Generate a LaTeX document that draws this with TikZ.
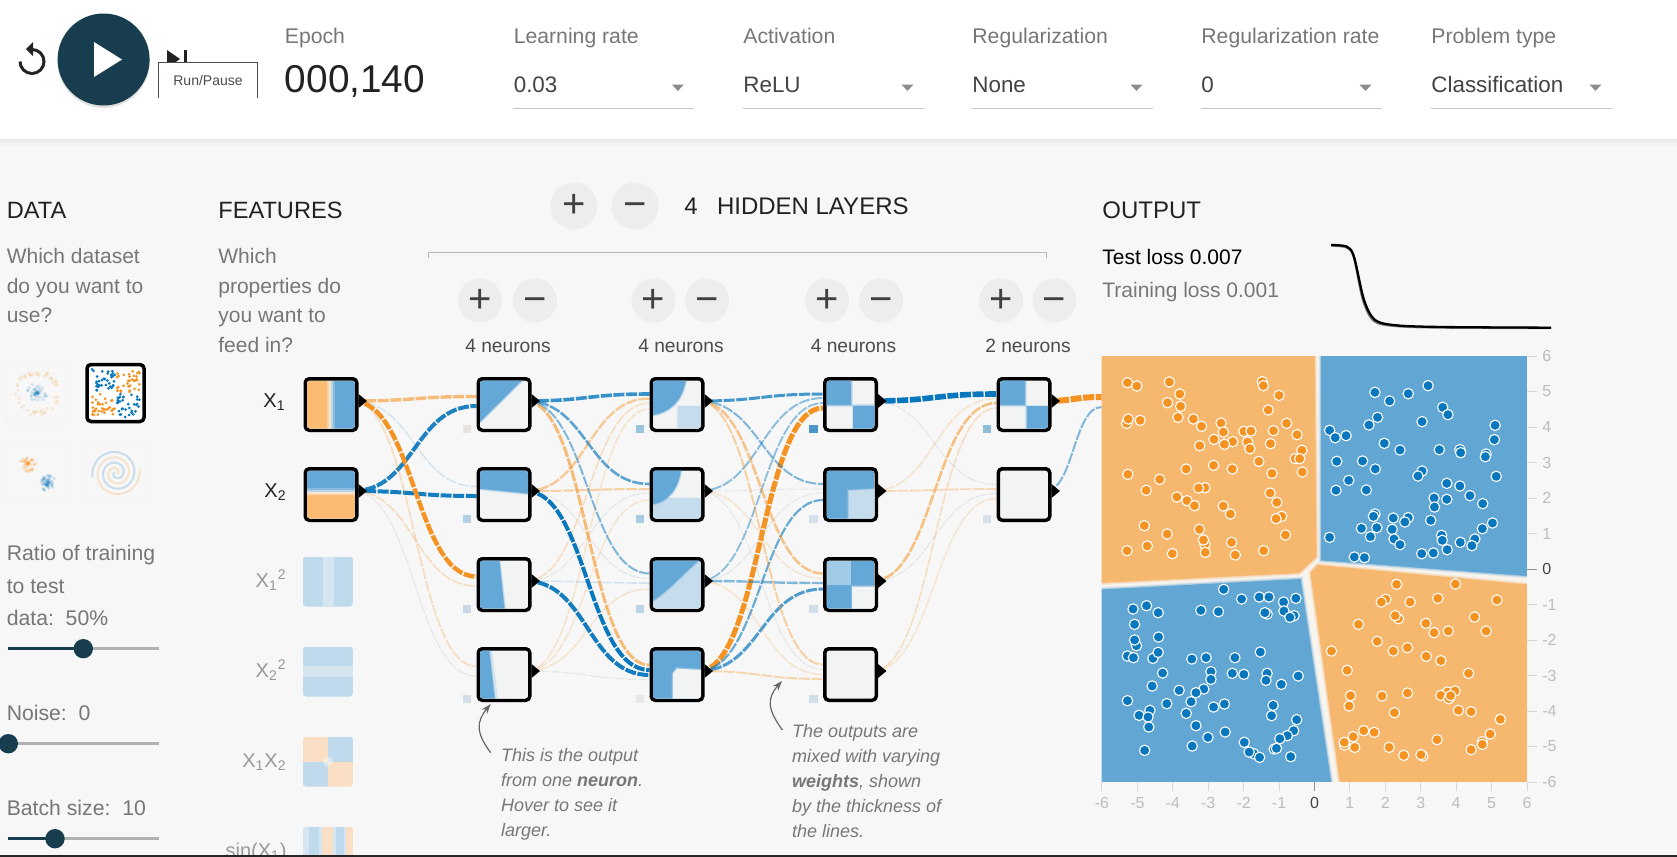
\documentclass[tikz,border=0pt]{standalone}
\usepackage{fontspec}
\setmainfont{Liberation Sans}
\usetikzlibrary{calc,shadows,arrows.meta}
\pgfdeclarelayer{wires}
\pgfdeclarelayer{thumbs}
\pgfsetlayers{wires,main,thumbs}

\definecolor{pagebg}{HTML}{F7F7F7}
\definecolor{navy}{HTML}{183D4E}
\definecolor{wb}{HTML}{0877BD}
\definecolor{wo}{HTML}{F59322}
\definecolor{wg}{HTML}{B4B8BA}
\definecolor{tb}{HTML}{63A8D6}
\definecolor{tl}{HTML}{C5DCEC}
\definecolor{tp}{HTML}{F2F4F4}
\definecolor{tor}{HTML}{FBBB72}
\definecolor{fb}{HTML}{BFD9ED}
\definecolor{fp}{HTML}{D6E6F0}
\definecolor{fo}{HTML}{FBDFC4}
\definecolor{heatb}{HTML}{62A6D4}
\definecolor{heato}{HTML}{F6B76F}
\definecolor{heatp}{HTML}{F8F4EE}
\definecolor{labgray}{HTML}{777777}
\definecolor{txtdark}{HTML}{222222}
\definecolor{axl}{HTML}{BDBDBD}
\definecolor{axd}{HTML}{444444}

\tikzset{
  lbl/.style={font=\fontsize{10.6}{13}\selectfont,text=labgray,inner sep=0pt,anchor=base west},
  val/.style={font=\fontsize{11.2}{13}\selectfont,text=txtdark!85,inner sep=0pt,anchor=base west},
  sect/.style={font=\fontsize{11.8}{14}\selectfont,text=txtdark,inner sep=0pt,anchor=base west},
  para/.style={font=\fontsize{10.5}{14.75}\selectfont,text=labgray,inner sep=0pt,anchor=north west,align=left},
  note/.style={font=\fontsize{9}{12.5}\selectfont\itshape,text=labgray,inner sep=0pt,anchor=north west,align=left},
  roundbtn/.style={circle,fill=black!7,text=black!75,inner sep=0pt,minimum size=#1,font=\fontsize{20}{20}\selectfont},
  neuron/.style={draw=black,line width=1.75pt,rounded corners=2pt,fill=tp,inner sep=0pt,minimum size=25.75pt,
    drop shadow={opacity=.14,shadow xshift=0pt,shadow yshift=-1pt}},
  featbox/.style={inner sep=0pt,minimum size=25pt},
  featlab/.style={font=\fontsize{10}{12}\selectfont,inner sep=0pt,anchor=base east},
  wirestyle/.style={dash pattern=on 5.5pt off .8pt},
  softb/.style={fill=tb,draw=tb,draw opacity=.22,line width=1.6pt,postaction={draw=tb,draw opacity=.35,line width=.7pt}},
  softl/.style={fill=tl,draw=tl,draw opacity=.22,line width=1.6pt,postaction={draw=tl,draw opacity=.35,line width=.7pt}},
  softp/.style={fill=tp,draw=tp,draw opacity=.22,line width=1.6pt,postaction={draw=tp,draw opacity=.35,line width=.7pt}},
}

% wire from the output tip of one node into the side of another
\newcommand{\wire}[4]{\draw[#4] let \p1=($(#1.east)+(-6,-3.5)$), \p2=($(#2.west)+(0,#3)$) in
  (\p1) .. controls ({0.5*\x1+0.5*\x2},\y1) and ({0.5*\x1+0.5*\x2},\y2) .. (\p2);}
% picture inside a node, drawn in a unit square
\newcommand{\thumb}[3][24pt]{\begin{pgfonlayer}{thumbs}
  \begin{scope}[shift={(#2.center)},xshift=-0.5*#1,yshift=-0.5*#1,x=#1,y=#1]
  \clip[rounded corners=1.5pt] (0,0) rectangle (1,1);
  \fill[tp] (0,0) rectangle (1,1);
  #3
  \end{scope}\end{pgfonlayer}}

\begin{document}
\begin{tikzpicture}[x=0.5pt,y=-0.5pt]
\useasboundingbox (0,0) rectangle (1677,857);

\begin{pgfonlayer}{wires}
\fill[pagebg] (0,0) rectangle (1677,857);
\fill[white] (0,0) rectangle (1677,139);
\shade[top color=black!9,bottom color=pagebg] (0,139) rectangle (1677,146);
\end{pgfonlayer}

% top bar
\draw[line width=1.5pt,txtdark] (32,49.5) arc[start angle=90,end angle=-180,radius=6pt];
\fill[txtdark] (26,49) -- (33,42) -- (33,56) -- cycle;
\node (play) [circle,fill=navy,inner sep=0pt,minimum size=46pt,drop shadow={opacity=.25,shadow xshift=0pt,shadow yshift=-1.2pt}] at (103.6,59.5) {};
\fill[white] (94,42) -- (122,59.5) -- (94,77) -- cycle;
\fill[txtdark] (167,50) -- (180,59) -- (167,68) -- cycle;
\fill[txtdark] (184,50) rectangle (187,68);
\node (runtip) [fill=white,minimum width=49pt,minimum height=17.5pt,inner sep=0pt,text=black!70,font=\fontsize{7}{8}\selectfont] at (208,80.5) {Run/Pause};
\draw[black!70,line width=.4pt] (runtip.south west) |- (runtip.north east) -- (runtip.south east);

\node (epochlab) [lbl] at (284.5,43) {Epoch};
\node (epochval) [font=\fontsize{19.4}{22}\selectfont,text=txtdark,inner sep=0pt,anchor=base west] at (284.5,92.7) {000,140};
\foreach \i/\lx/\lab/\vl in {1/513.4/Learning rate/0.03,2/743/Activation/ReLU,3/972/Regularization/None,4/1201/Regularization rate/0,5/1431/Problem type/Classification}{
  \node (drop\i) [lbl] at (\lx,43) {\lab};
  \node (dropval\i) [val] at (\lx,92) {\vl};
  \draw[black!22,line width=.5pt] (\lx,108) -- (\lx+180.5,108);
  \fill[black!45] (\lx+158.5,84.5) -- (\lx+170.5,84.5) -- (\lx+164.5,91) -- cycle;
}

% data column
\node (datatitle) [sect] at (6.4,218) {DATA};
\node (datatext) [para] at (6.4,248) {Which dataset\\do you want to\\use?};
\node (ratio1) [lbl] at (6.4,560) {Ratio of training};
\node (ratio2) [lbl] at (6.4,593) {to test};
\node (ratio3) [lbl] at (6.4,625) {data:\ \ 50\%};
\node (noiselab) [lbl] at (6.4,720) {Noise:\ \ 0};
\node (batchlab) [lbl] at (6.4,815) {Batch size:\ \ 10};
\foreach \sy/\kx in {648.7/83.3,743.7/8.3,838.7/55}{
  \draw[black!30,line width=1.25pt] (8,\sy) -- (159,\sy);
  \draw[navy,line width=1.25pt] (8,\sy) -- (\kx,\sy);
  \fill[navy] (\kx,\sy) circle[radius=4.85pt];
}

% dataset pictures
\foreach \bx/\by in {6/363,6/441,85/441}
  \draw[black!4,fill=pagebg,line width=.8pt,rounded corners=2pt] (\bx,\by) rectangle ++(61,61);
\node (xordata) [draw=black,line width=1.75pt,rounded corners=2pt,fill=white,minimum size=28.5pt,inner sep=0pt,
  drop shadow={opacity=.14,shadow xshift=0pt,shadow yshift=-1pt}] at (115.5,393) {};
\pgfmathsetseed{14}
\foreach \i in {1,...,50}{
  \pgfmathsetmacro\ang{rnd*360}\pgfmathsetmacro\rr{rnd*10}
  \fill[wb,opacity=.16] ({37+\rr*cos(\ang)},{393+\rr*sin(\ang)}) circle[radius=.9pt];
  \pgfmathsetmacro\ang{rnd*360}\pgfmathsetmacro\rr{18+rnd*5}
  \fill[wo,opacity=.16] ({37+\rr*cos(\ang)},{393+\rr*sin(\ang)}) circle[radius=.9pt];
  \pgfmathsetmacro\ang{rnd*360}\pgfmathsetmacro\rr{rnd*8}
  \fill[wo,opacity=.2] ({28+\rr*cos(\ang)},{464+\rr*sin(\ang)}) circle[radius=.9pt];
  \pgfmathsetmacro\ang{rnd*360}\pgfmathsetmacro\rr{rnd*8}
  \fill[wb,opacity=.2] ({48+\rr*cos(\ang)},{483+\rr*sin(\ang)}) circle[radius=.9pt];
}
\foreach \qx/\qy/\qc in {92/369/wb,117/369/wo,92/394/wo,117/394/wb}
  \foreach \i in {1,...,34}{
    \pgfmathsetmacro\dx{\qx+rnd*23}\pgfmathsetmacro\dy{\qy+rnd*23}
    \fill[\qc] (\dx,\dy) circle[radius=.75pt];
  }
\draw[wb,opacity=.2,line width=1pt,domain=40:800,samples=90,smooth,variable=\t] plot ({116+0.03*\t*cos(\t+110)},{473-0.03*\t*sin(\t+110)});
\draw[wo,opacity=.2,line width=1pt,domain=40:800,samples=90,smooth,variable=\t] plot ({116+0.03*\t*cos(\t+290)},{473-0.03*\t*sin(\t+290)});

% features column
\node (featitle) [sect] at (218,218) {FEATURES};
\node (featext) [para] at (218,248) {Which\\properties do\\you want to\\feed in?};
\foreach \nm/\cy in {x1/404.5,x2/494.5}
  \node (\nm) [neuron] at (331,\cy) {};
\foreach \nm/\cy in {xa/581.5,xb/671.5,xc/761.5,xd/851.5}
  \node (\nm) [featbox] at (328,\cy) {};
\node (labx1) [featlab,text=txtdark] at (286,407) {X\textsubscript{1}};
\node (labx2) [featlab,text=txtdark] at (287,497) {X\textsubscript{2}};
\node (labxa) [featlab,text=black!40] at (287,587) {X\textsubscript{1}\textsuperscript{2}};
\node (labxb) [featlab,text=black!40] at (287,677) {X\textsubscript{2}\textsuperscript{2}};
\node (labxc) [featlab,text=black!40] at (287,767) {X\textsubscript{1}X\textsubscript{2}};
\node (labxd) [featlab,text=black!40] at (287,857) {sin(X\textsubscript{1})};

% hidden layers
\node (addlayer) [roundbtn=23.5pt] at (574,206) {+};
\node (dellayer) [roundbtn=23.5pt] at (635,206) {\vphantom{+}−};
\node (numlayers) [font=\fontsize{12}{14}\selectfont,text=txtdark,inner sep=0pt,anchor=base] at (691,214) {4};
\node (hiddentitle) [font=\fontsize{12}{14}\selectfont,text=txtdark,inner sep=0pt,anchor=base west] at (716.6,214) {HIDDEN LAYERS};
\draw[black!28,line width=.5pt] (428,258) |- (1046,252.5) -- (1046,258);
\foreach \l/\cx/\n/\pa/\pb in {1/508/4/480/535,2/681/4/653.5/707,3/853.5/4/827/881,4/1028/2/1001/1054.5}{
  \node (add\l) [roundbtn=22pt] at (\pa,300.5) {+};
  \node (del\l) [roundbtn=22pt] at (\pb,300.5) {\vphantom{+}−};
  \node (count\l) [font=\fontsize{9.6}{12}\selectfont,text=black!70,inner sep=0pt,anchor=base] at (\cx,352) {\n{} neurons};
}
\foreach \l/\cx in {1/504,2/677,3/850.5}
  \foreach \n/\cy in {1/404.5,2/494.5,3/584.5,4/674.5}
    \node (h\l\n) [neuron] at (\cx,\cy) {};
\foreach \n/\cy in {1/404.5,2/494.5}
  \node (h4\n) [neuron] at (1024,\cy) {};

% output tips
\foreach \nm in {x1,x2,h11,h12,h13,h14,h21,h22,h23,h24,h31,h32,h33,h34,h41,h42}
  \fill[black] ($(\nm.east)+(0,-10.5)$) -- ($(\nm.east)+(8.5,-3.5)$) -- ($(\nm.east)+(0,3.5)$) -- cycle;

% small bias squares
\foreach \nm/\col in {h11/E8E2DC,h12/B5D0E4,h13/C8D9E6,h14/D3DFE9,h21/9BC3E0,h22/A9CBE2,h23/BDD4E6,h24/E8E8EA,h31/4D96CC,h32/D4E0E9,h33/CFDEE8,h34/CFDEE8,h41/8FBCDB,h42/D6E0EA}{
  \definecolor{biascol}{HTML}{\col}
  \fill[biascol] ($(\nm.south west)+(-14,1)$) rectangle ++(8.5,-8.5);
}

\node (heatmap) [inner sep=0pt,minimum width=212.5pt,minimum height=213pt] at (1314.5,569) {};

\begin{pgfonlayer}{wires}
% from, to, end offset, colour, width, opacity
\foreach \fr/\tg/\off/\col/\lw/\op in {
  x1/h11/-8/wo/1.7/.6, x2/h11/1.5/wb/2/.9,
  x1/h12/-8/wb/.7/.15, x2/h12/1.5/wb/2/.95,
  x1/h13/-8/wo/2.2/1, x2/h13/1.5/wo/.8/.25,
  x1/h14/-8/wo/.9/.25, x2/h14/1.5/wg/.6/.25,
  h11/h21/-10.5/wb/1.8/.8, h12/h21/-6/wo/1.2/.45, h13/h21/-1.5/wo/.8/.25, h14/h21/4.5/wo/.8/.2,
  h11/h22/-10.5/wb/1.3/.65, h12/h22/-5.5/wo/1/.4, h13/h22/-1.5/wg/.6/.25, h14/h22/5.5/wo/.7/.2,
  h11/h23/-11/wb/1/.5, h12/h23/-6/wg/.6/.25, h13/h23/-1.5/wb/.8/.15, h14/h23/4.5/wo/.8/.2,
  h11/h24/-9.5/wo/1.5/.6, h12/h24/-4.5/wb/2/1, h13/h24/.5/wb/2/.95, h14/h24/5/wg/.6/.25,
  h21/h31/-10.5/wb/1.5/.75, h22/h31/-6.5/wb/1/.45, h23/h31/-1.5/wb/.9/.45, h24/h31/3.5/wo/2.5/1,
  h21/h32/-10.5/wb/1/.5, h22/h32/-5.5/wg/.6/.2, h23/h32/-1.5/wg/.6/.25, h24/h32/5.5/wb/1.1/.6,
  h21/h33/-11/wo/1.3/.5, h22/h33/-6/wo/.7/.2, h23/h33/-1.5/wb/1.2/.5, h24/h33/4.5/wb/1.5/.7,
  h21/h34/-10/wo/1/.4, h22/h34/-5/wg/.6/.25, h23/h34/0/wo/.8/.2, h24/h34/4.5/wo/1/.35,
  h31/h41/-10.5/wb/2.8/1, h32/h41/-6/wo/.8/.2, h33/h41/-1.5/wo/1.3/.55, h34/h41/3.5/wo/.8/.25,
  h31/h42/-10/wg/.6/.25, h32/h42/-5.5/wo/.9/.3, h33/h42/-1/wg/.6/.25, h34/h42/4/wo/.7/.2,
  h41/heatmap/-172/wo/3/1, h42/heatmap/-162/wb/1/.5}{
  \wire{\fr}{\tg}{\off}{draw=\col,line width=\lw pt,draw opacity=\op,wirestyle}
}
\end{pgfonlayer}

% what each node shows
\thumb{x1}{\fill[tor] (0,0) rectangle (.42,1);\fill[tor!60!tp] (.42,0) rectangle (.46,1);\fill[tor!30!tp] (.46,0) rectangle (.5,1);\fill[tb!40!tp] (.5,0) rectangle (.54,1);\fill[tb!75!tp] (.54,0) rectangle (.58,1);\fill[tb] (.58,0) rectangle (1,1);}
\thumb{x2}{\fill[tb] (0,1) rectangle (1,.64);\fill[tb!75!tp] (0,.64) rectangle (1,.6);\fill[tb!40!tp] (0,.6) rectangle (1,.56);\fill[tor!30!tp] (0,.56) rectangle (1,.52);\fill[tor!60!tp] (0,.52) rectangle (1,.48);\fill[tor] (0,.48) rectangle (1,0);}
\thumb{h11}{\filldraw[softb] (-.2,1.2) -- (.87,1.2) -- (.87,1) -- (0,.14) -- (-.2,.14) -- cycle;}
\thumb{h12}{\filldraw[softb] (-.2,1.2) -- (1.2,1.2) -- (1.2,.5) -- (-.2,.64) -- cycle;}
\thumb{h13}{\filldraw[softb] (-.2,-.2) -- (.53,-.2) -- (.38,1.2) -- (-.2,1.2) -- cycle;}
\thumb{h14}{\filldraw[softb,line width=3pt] (-.2,-.2) -- (.33,-.2) -- (.17,1.2) -- (-.2,1.2) -- cycle;}
\thumb{h21}{\filldraw[softl] (.52,-.2) rectangle (1.2,.46);\filldraw[softb] (-.2,1.2) -- (.68,1.2) -- (.68,1) .. controls (.6,.55) and (.35,.35) .. (0,.28) -- (-.2,.28) -- cycle;}
\thumb{h22}{\filldraw[softl] (-.2,-.2) rectangle (1.2,.42);\filldraw[softb] (-.2,1.2) -- (.58,1.2) -- (.58,1) .. controls (.52,.6) and (.3,.35) .. (0,.3) -- (-.2,.3) -- cycle;}
\thumb{h23}{\fill[tl] (0,0) rectangle (1,1);\filldraw[softb] (-.2,1.2) -- (.95,1.2) -- (.95,1) .. controls (.6,.7) and (.3,.35) .. (0,.17) -- (-.2,.17) -- cycle;}
\thumb{h24}{\fill[tb] (0,0) rectangle (1,1);\filldraw[softp] (.42,-.2) -- (.42,.52) -- (.5,.62) -- (1.2,.58) -- (1.2,-.2) -- cycle;}
\thumb{h31}{\filldraw[softb] (-.2,1.2) rectangle (.52,.48);\filldraw[softb] (.56,-.2) rectangle (1.2,.47);}
\thumb{h32}{\fill[tb] (0,0) rectangle (1,1);\filldraw[softl] (.46,-.2) -- (.46,.58) -- (1.2,.62) -- (1.2,-.2) -- cycle;}
\thumb{h33}{\fill[tb] (0,0) rectangle (1,1);\fill[tb!60] (0,1) rectangle (.5,.5);\filldraw[softp] (.54,-.2) rectangle (1.2,.45);}
\thumb{h41}{\filldraw[softb] (-.2,1.2) rectangle (.53,.48);\filldraw[softb] (.56,-.2) rectangle (1.2,.46);}

\thumb[25pt]{xa}{\fill[fb] (0,0) rectangle (1,1);\fill[fp] (.39,0) rectangle (.61,1);}
\thumb[25pt]{xb}{\fill[fb] (0,0) rectangle (1,1);\fill[fp] (0,.39) rectangle (1,.61);}
\thumb[25pt]{xc}{\fill[fo] (0,0) rectangle (1,1);\fill[fb] (.5,.5) rectangle (1,1);\fill[fb] (0,0) rectangle (.5,.5);\fill[white,opacity=.4] (.5,.5) circle[radius=.1];}
\thumb[25pt]{xd}{\fill[fp] (0,0) rectangle (1,1);\fill[fb] (.12,0) rectangle (.32,1);\fill[fo] (.38,0) rectangle (.6,1);\fill[fb] (.66,0) rectangle (.82,1);\fill[fo] (.86,0) rectangle (1,1);}

% output
\node (outtitle) [font=\fontsize{12}{14}\selectfont,text=txtdark,inner sep=0pt,anchor=base west] at (1102,218) {OUTPUT};
\node (testloss) [font=\fontsize{10.5}{13}\selectfont,text=black,inner sep=0pt,anchor=base west] at (1102,264) {Test loss 0.007};
\node (trainloss) [font=\fontsize{10.5}{13}\selectfont,text=labgray,inner sep=0pt,anchor=base west] at (1102,297) {Training loss 0.001};
\draw[black!50,line width=1.2pt,smooth] plot coordinates {(1331,245.5) (1347,247.5) (1354,257.5) (1363,300) (1374,321) (1396,326) (1441,327.5) (1551,328)};
\draw[black,line width=1.15pt,smooth] plot coordinates {(1331,245) (1347,246.7) (1354,257) (1364,300) (1375,320) (1396,325.3) (1442,327) (1551,327.7)};

\begin{scope}[shift={(1090,340)},x=0.1872pt,y=-0.16667pt]
\fill[heatp] (32,48) rectangle (1167,1325);
\begin{scope}
\clip (32,48) rectangle (1167,1325);
\foreach \lw/\op in {2.6/.18,1.6/.25,.8/.4}{
  \filldraw[fill=heato,draw=heato,draw opacity=\op,line width=\lw pt] (20,30) -- (599,30) -- (604,650) -- (558,698) -- (20,728) -- cycle;
  \filldraw[fill=heatb,draw=heatb,draw opacity=\op,line width=\lw pt] (618,30) -- (1180,30) -- (1180,708) -- (618,660) -- cycle;
  \filldraw[fill=heato,draw=heato,draw opacity=\op,line width=\lw pt] (590,698) -- (608,676) -- (1180,736) -- (1180,1340) -- (670,1340) -- cycle;
  \filldraw[fill=heatb,draw=heatb,draw opacity=\op,line width=\lw pt] (20,750) -- (562,718) -- (645,1340) -- (20,1340) -- cycle;
}
\end{scope}
\foreach \a/\b in {100/128,125/138,212/126,240/162,207/188,242/199,235/232,460/125,463/137,505/166,476/210,98/250,102/237,134/241,276/237,298/259,350/249,356/276,411/274,430/273,490/272,525/250,553/284,331/298,381/305,359/313,293/317,421/306,427/326,482/311,566/331,548/356,560/356,451/364,101/403,186/418,257/387,330/376,380/387,486/400,567/396,150/451,307/443,290/444,232/471,259/482,279/497,356/498,375/522,481/459,499/487,512/529,497/536,145/557,206/582,292/568,307/613,303/600,378/607,522/585,99/632,153/618,220/641,308/637,388/645,464/632,
  819/733,976/732,790/778,778/786,855/786,929/775,1087/780,824/836,815/827,1027/831,717/853,897/850,919/878,957/873,1058/873,767/904,645/933,810/933,848/923,898/949,937/962,687/991,1011/1000,696/1067,780/1068,848/1059,955/1056,975/1053,937/1066,958/1076,963/1067,692/1098,813/1118,984/1111,1018/1115,1096/1138,731/1172,759/1177,703/1190,680/1215,679/1207,707/1222,799/1222,838/1246,889/1248,884/1244,927/1199,1018/1229,1048/1205,1048/1213,1069/1182}
  \filldraw[fill=wo,draw=white,line width=.55pt] (\a,\b) circle[radius=2.6pt];
\foreach \a/\b in {761/157,800/183,850/161,903/137,942/202,956/224,768/232,745/255,887/245,1082/256,1080/299,640/271,655/293,684/287,786/310,828/330,933/329,988/329,990/338,1058/342,1056/350,659/364,728/363,762/387,887/393,876/408,1085/409,691/421,657/451,738/450,953/430,988/438,1015/467,919/474,953/478,920/501,1049/491,761/522,757/529,810/534,850/533,841/546,910/541,725/565,766/563,807/568,1075/549,1048/566,640/592,749/590,812/597,828/614,939/586,941/601,989/607,1028/597,1020/617,954/629,886/641,917/639,706/651,733/653,
  357/748,405/777,452/771,478/771,517/786,550/775,151/797,115/807,182/818,296/811,343/815,473/822,467/818,518/813,545/827,534/832,119/853,183/891,124/917,119/900,100/948,116/953,168/955,182/937,272/957,310/953,387/953,455/936,323/995,194/999,380/1000,411/1003,473/1000,556/1008,323/1018,470/1021,511/1033,166/1038,304/1047,238/1051,283/1058,100/1082,270/1085,205/1091,359/1092,330/1101,489/1096,160/1111,131/1126,155/1131,257/1120,485/1127,552/1139,157/1161,283/1157,544/1172,361/1176,527/1187,507/1196,315/1192,412/1207,273/1218,146/1231,492/1227,498/1225,437/1241,425/1236,453/1252,536/1250}
  \filldraw[fill=wb,draw=white,line width=.55pt] (\a,\b) circle[radius=2.6pt];
\end{scope}

% axes of the output plot
\foreach \v/\col in {-6/axl,-5/axl,-4/axl,-3/axl,-2/axl,-1/axl,0/axd,1/axl,2/axl,3/axl,4/axl,5/axl,6/axl}{
  \pgfmathsetmacro\ty{569-35.5*\v}
  \pgfmathsetmacro\tx{1314.5+35.42*\v}
  \draw[\col!60,line width=.5pt] (1527,\ty) -- (1537,\ty);
  \draw[\col!60,line width=.5pt] (\tx,782) -- (\tx,791);
  \node (axr\v) [font=\fontsize{8}{10}\selectfont,text=\col,inner sep=0pt,anchor=west] at (1542,\ty) {\v};
  \node (axb\v) [font=\fontsize{8}{10}\selectfont,text=\col,inner sep=0pt,anchor=center] at (\tx,803) {\v};
}

% notes below the network
\node (note1) [note] at (500.7,748) {This is the output\\from one \textbf{neuron}.\\Hover to see it\\larger.};
\node (note2) [note] at (791.7,724) {The outputs are\\mixed with varying\\\textbf{weights}, shown\\by the thickness of\\the lines.};
\coordinate (arrow1a) at (490.7,752.7);
\coordinate (arrow1b) at (490.7,704);
\coordinate (arrow2a) at (782.4,730);
\coordinate (arrow2b) at (782,681);
\draw[black!60,line width=.6pt,-{Stealth[length=5pt,width=3.5pt]}] (arrow1a) .. controls (476,733) and (476,722) .. (arrow1b);
\draw[black!60,line width=.6pt,-{Stealth[length=5pt,width=3.5pt]}] (arrow2a) .. controls (767,709) and (767,698) .. (arrow2b);

\begin{pgfonlayer}{thumbs}
\fill[black!85] (0,855) rectangle (1677,857);
\end{pgfonlayer}
\end{tikzpicture}
\end{document}
